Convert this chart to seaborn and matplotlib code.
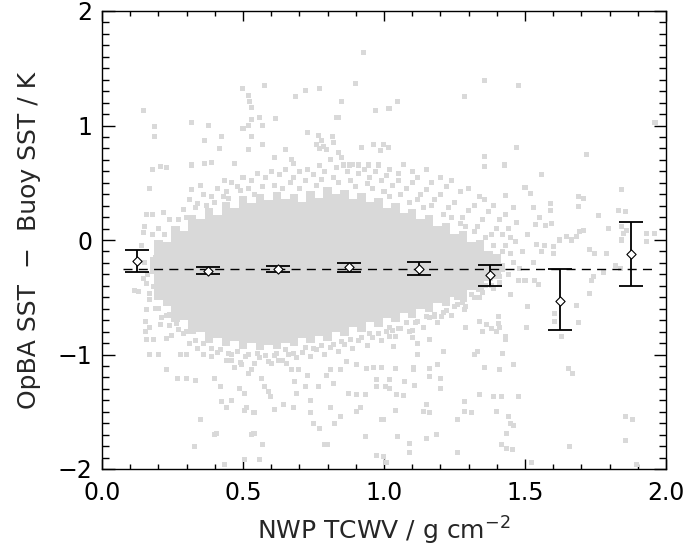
import matplotlib
matplotlib.use("Agg")
import matplotlib.pyplot as plt
from matplotlib.ticker import MultipleLocator, FixedLocator
import seaborn as sns
import pandas as pd

# ---- data ----
# dense core of the scatter cloud: envelope of the nearly solid region
core_tcwv = [0.17, 0.20, 0.23, 0.26, 0.29, 0.32, 0.35, 0.38, 0.41, 0.44, 0.47, 0.50, 0.53, 0.56,
             0.59, 0.62, 0.65, 0.68, 0.71, 0.74, 0.77, 0.80, 0.83, 0.86, 0.89, 0.92, 0.95, 0.98,
             1.01, 1.04, 1.07, 1.10, 1.13, 1.16, 1.19, 1.22, 1.25, 1.28, 1.31, 1.34, 1.37, 1.40, 1.43]
core_hi = [-0.15, 0.00, -0.02, 0.12, 0.08, 0.22, 0.18, 0.28, 0.22, 0.33, 0.28, 0.38, 0.32, 0.40,
           0.35, 0.42, 0.36, 0.40, 0.33, 0.43, 0.37, 0.46, 0.40, 0.44, 0.36, 0.41, 0.33, 0.37,
           0.28, 0.32, 0.24, 0.27, 0.18, 0.22, 0.12, 0.15, 0.05, 0.08, -0.02, 0.00, -0.10, -0.12, -0.20]
core_lo = [-0.30, -0.52, -0.58, -0.72, -0.70, -0.82, -0.80, -0.90, -0.86, -0.93, -0.88, -0.95, -0.90, -0.96,
           -0.92, -0.95, -0.90, -0.93, -0.86, -0.90, -0.84, -0.88, -0.80, -0.84, -0.76, -0.80, -0.72, -0.76,
           -0.68, -0.72, -0.64, -0.68, -0.60, -0.63, -0.55, -0.58, -0.50, -0.52, -0.44, -0.45, -0.36, -0.34, -0.28]

# individual matchups outside the dense core (TCWV, SST difference)
pts = [
    # upper scatter
    (0.146, 1.13), (0.186, 0.99), (0.186, 0.90), (0.316, 1.03), (0.377, 1.00), (0.497, 1.32),
    (0.519, 1.26), (0.524, 1.21), (0.531, 1.16), (0.578, 1.35), (0.72, 1.31), (0.77, 1.32),
    (0.687, 1.25), (0.90, 1.37), (0.85, 1.21), (0.97, 1.13), (1.015, 1.15), (0.50, 0.975),
    (0.52, 1.00), (0.53, 1.05), (0.557, 1.07), (0.568, 1.00), (0.616, 1.06), (0.83, 1.07),
    (0.84, 1.07), (0.365, 0.87), (0.424, 0.90), (0.418, 0.80), (0.531, 0.90), (0.519, 0.79),
    (0.568, 0.83), (0.649, 0.79), (0.73, 0.94), (0.766, 0.91), (0.78, 0.87), (0.76, 0.83),
    (0.77, 0.80), (0.787, 0.82), (0.797, 0.79), (0.817, 0.90), (0.82, 0.85), (0.838, 0.76),
    (0.92, 0.81), (0.962, 0.83), (0.997, 0.83), (0.986, 0.78), (1.015, 0.81), (0.178, 0.62),
    (0.208, 0.64), (0.229, 0.63), (0.316, 0.655), (0.365, 0.67), (0.387, 0.68), (0.469, 0.67),
    (0.61, 0.72), (0.673, 0.70), (0.678, 0.67), (0.856, 0.655), (0.879, 0.655), (0.909, 0.655),
    (0.944, 0.655), (0.98, 0.655), (0.17, 0.45), (0.158, 0.227), (0.18, 0.227), (0.146, 0.064),
    (0.217, 0.24), (0.318, 0.44), (0.348, 0.48), (0.436, 0.52), (0.926, 1.64),
    (1.047, 1.21), (1.019, 1.15), (1.287, 1.25), (1.358, 1.39), (1.476, 1.35), (1.961, 1.03),
    (1.47, 0.81), (1.358, 0.73), (1.358, 0.64), (1.429, 0.655), (1.719, 0.75), (1.559, 0.57),
    (1.50, 0.46), (1.52, 0.41), (1.43, 0.39), (1.358, 0.35), (1.843, 0.44), (1.689, 0.38),
    (1.709, 0.36), (1.83, 0.26), (1.858, 0.25), (1.53, 0.28), (1.59, 0.32), (1.59, 0.26),
    (1.76, 0.21), (1.689, 0.29), (1.571, 0.13), (1.595, 0.14), (1.538, 0.137), (1.624, 0.0),
    (1.648, 0.03), (1.695, 0.07), (1.709, 0.087), (1.795, 0.10), (1.843, 0.116), (1.86, 0.087),
    (1.93, 0.06), (1.93, -0.015), (1.96, 0.06), (1.60, -0.06), (1.60, -0.12), (1.73, -0.08),
    (1.748, -0.12), (1.79, -0.12), (1.54, -0.04), (1.56, -0.10), (1.465, -0.015), (1.85, 0.06),
    (1.843, 0.0), (1.666, 0.0), (1.683, 0.03),
    # lower right scatter
    (1.63, -0.845), (1.654, -1.12), (1.67, -1.17), (1.69, -0.72), (1.606, -0.71), (1.728, -0.47),
    (1.858, -1.54), (1.88, -1.57), (1.858, -1.75), (1.894, -1.96), (1.657, -1.80), (1.524, -1.94),
    (1.476, -1.37), (1.46, -1.09), (1.417, -1.37), (1.39, -1.37), (1.41, -1.135), (1.42, -0.99),
    (1.44, -1.54), (1.449, -1.60), (1.46, -1.62), (1.435, -1.69), (1.417, -1.79), (1.435, -1.82),
    (1.456, -1.83), (1.40, -1.50), (1.34, -1.35), (1.358, -1.11), (1.33, -0.975), (1.32, -1.00),
    (1.43, -0.845), (1.43, -0.87), (1.41, -0.76), (1.38, -0.77), (1.35, -0.80), (1.29, -0.76),
    (1.26, -1.57), (1.287, -1.41), (1.31, -1.51), (1.26, -1.86), (1.187, -1.70), (1.15, -1.73),
    (1.14, -1.50), (1.163, -1.51), (1.149, -1.44), (1.092, -1.78), (1.092, -1.86), (1.047, -1.72),
    (1.01, -1.94), (1.04, -1.485), (0.99, -1.57), (1.199, -1.30), (1.199, -1.21), (1.163, -1.19),
    (1.163, -1.12), (1.19, -1.09), (1.108, -1.27), (1.074, -1.24), (1.045, -1.35), (1.068, -1.36),
    (1.019, -1.30), (1.019, -1.22), (1.104, -1.11), (1.104, -1.135), (1.04, -1.12), (0.99, -1.11),
    (1.21, -0.97), (1.118, -1.00), (1.163, -0.865), (1.118, -0.90), (1.033, -0.93), (1.10, -0.85),
    (1.10, -0.79), (1.03, -0.79), (1.02, -0.845), (1.287, -1.50), (1.40, -0.80), (1.405, -0.73),
    (1.405, -0.67), (1.34, -0.71), (1.364, -0.74), (1.506, -0.76), (1.51, -0.58), (1.447, -0.48),
    (1.476, -0.35), (1.547, -0.39), (1.535, -0.35), (1.742, -0.32), (1.736, -0.35), (1.778, -0.28),
    (1.82, -0.22), (1.837, -0.25), (1.606, -0.64), (1.683, -0.57), (1.287, -0.61),
    (1.287, -0.52), (1.258, -0.50), (1.21, -0.45), (1.205, -0.67), (1.18, -0.67),
    # lower left scatter
    (0.117, -0.44), (0.17, -0.47), (0.17, -0.52), (0.158, -0.61), (0.156, -0.71), (0.17, -0.76),
    (0.156, -0.80), (0.182, -0.87), (0.158, -0.87), (0.17, -1.00), (0.20, -1.00), (0.229, -1.135),
    (0.267, -1.21), (0.30, -1.21), (0.33, -1.23), (0.277, -1.00), (0.30, -1.00), (0.348, -1.57),
    (0.40, -1.70), (0.407, -1.69), (0.327, -1.80), (0.436, -1.96), (0.504, -1.92), (0.557, -1.92),
    (0.539, -1.69), (0.53, -1.70), (0.568, -1.79), (0.539, -1.51), (0.504, -1.34), (0.513, -1.46),
    (0.504, -1.485), (0.46, -1.40), (0.424, -1.41), (0.44, -1.46), (0.489, -1.30), (0.40, -1.21),
    (0.421, -1.28), (0.53, -1.135), (0.566, -1.21), (0.578, -1.28), (0.59, -1.325), (0.596, -1.37),
    (0.613, -1.48), (0.643, -1.44), (0.678, -1.46), (0.69, -1.34), (0.738, -1.40), (0.738, -1.51),
    (0.773, -1.645), (0.79, -1.79), (0.80, -1.79), (0.75, -1.60), (0.826, -1.60), (0.81, -1.46),
    (0.844, -1.54), (0.873, -1.34), (0.903, -1.35), (0.933, -1.35), (0.915, -1.46), (0.903, -1.50),
    (0.933, -1.72), (0.998, -1.57), (0.974, -1.88), (0.998, -1.89), (0.696, -1.135), (0.73, -1.18),
    (0.684, -1.24), (0.72, -1.28), (0.767, -1.28), (0.82, -1.25), (0.797, -1.18), (0.81, -1.135),
    (0.844, -1.135), (0.868, -1.06), (0.903, -1.09), (0.939, -1.12), (0.962, -1.11), (0.974, -1.22),
    (1.004, -1.28), (0.974, -1.28), (0.60, -1.08), (0.625, -1.05), (0.655, -1.08), (0.673, -1.135),
    (0.46, -1.05), (0.47, -1.11), (0.495, -1.09), (0.519, -1.165), (0.229, -0.86), (0.247, -0.83),
    (0.265, -0.73), (0.277, -0.68), (0.24, -0.655), (0.206, -0.74), (0.206, -0.45), (0.235, -0.41),
    (0.247, -0.50), (0.283, -0.57), (0.265, -0.58), (0.24, -0.55), (0.146, -0.335), (0.158, -0.38),
    (0.182, -0.41), (0.206, -0.35), (0.229, -0.31),
    # fringe above the dense core
    (0.20, 0.10), (0.24, 0.18), (0.26, 0.10), (0.29, 0.27), (0.31, 0.35), (0.34, 0.32), (0.36, 0.40),
    (0.39, 0.38), (0.41, 0.45), (0.44, 0.42), (0.46, 0.50), (0.48, 0.47), (0.50, 0.55), (0.53, 0.52),
    (0.55, 0.58), (0.58, 0.55), (0.60, 0.60), (0.63, 0.57), (0.65, 0.62), (0.68, 0.55), (0.70, 0.60),
    (0.73, 0.62), (0.75, 0.57), (0.77, 0.65), (0.79, 0.60), (0.81, 0.70), (0.83, 0.63), (0.85, 0.72),
    (0.87, 0.60), (0.89, 0.66), (0.91, 0.58), (0.93, 0.62), (0.95, 0.55), (0.97, 0.60), (0.99, 0.52),
    (1.01, 0.56), (1.03, 0.48), (1.05, 0.52), (1.08, 0.45), (1.10, 0.50), (1.13, 0.40), (1.15, 0.44),
    (1.18, 0.35), (1.20, 0.40), (1.23, 0.28), (1.25, 0.33), (1.28, 0.20), (1.30, 0.26), (1.33, 0.12),
    (1.35, 0.18), (1.38, 0.05), (1.40, 0.10), (1.43, -0.05), (1.45, 0.02),
    (1.02, 0.62), (1.05, 0.58), (1.07, 0.66), (1.10, 0.60), (1.12, 0.55), (1.15, 0.62), (1.17, 0.50),
    (1.20, 0.55), (1.22, 0.47), (1.24, 0.52), (1.27, 0.42), (1.30, 0.45), (1.32, 0.30), (1.34, 0.38),
    (1.37, 0.25), (1.39, 0.30), (1.41, 0.18), (1.43, 0.22), (1.44, 0.10), (1.42, 0.05), (1.45, -0.12),
    (1.46, -0.20), (1.47, 0.15), (1.49, -0.10), (1.51, 0.05), (1.53, -0.20), (1.48, -0.25),
    (1.55, 0.20), (1.46, 0.28), (1.57, -0.05), (1.50, -0.35),
    (0.22, 0.05), (0.27, 0.18), (0.30, 0.20), (0.33, 0.28), (0.37, 0.30), (0.40, 0.33), (0.43, 0.38),
    (0.45, 0.36), (0.49, 0.43), (0.52, 0.45), (0.54, 0.40), (0.57, 0.47), (0.61, 0.48), (0.64, 0.45),
    (0.67, 0.50), (0.70, 0.45), (0.72, 0.52), (0.76, 0.48), (0.78, 0.53), (0.82, 0.55), (0.84, 0.50),
    (0.88, 0.52), (0.90, 0.47), (0.94, 0.49), (0.96, 0.45), (1.00, 0.42), (1.02, 0.38), (1.06, 0.40),
    (1.09, 0.33), (1.12, 0.35), (1.14, 0.28), (1.17, 0.30), (1.21, 0.22), (1.24, 0.20), (1.27, 0.14),
    (1.29, 0.12), (1.32, 0.07), (1.36, 0.02), (1.39, -0.05), (1.42, -0.10),
    # fringe below the dense core
    (0.19, -0.60), (0.21, -0.68), (0.24, -0.75), (0.26, -0.65), (0.29, -0.82), (0.31, -0.90),
    (0.34, -0.95), (0.36, -1.00), (0.39, -1.02), (0.41, -0.98), (0.44, -1.05), (0.46, -1.00),
    (0.49, -1.07), (0.51, -1.02), (0.54, -1.08), (0.56, -1.03), (0.59, -1.06), (0.61, -1.01),
    (0.64, -1.05), (0.66, -1.00), (0.69, -1.03), (0.71, -0.98), (0.74, -1.02), (0.76, -0.96),
    (0.79, -1.00), (0.81, -0.94), (0.84, -0.97), (0.86, -0.91), (0.89, -0.95), (0.91, -0.88),
    (0.94, -0.92), (0.96, -0.85), (0.99, -0.88), (1.01, -0.80), (1.04, -0.84), (1.06, -0.77),
    (1.09, -0.80), (1.11, -0.72), (1.14, -0.76), (1.16, -0.68), (1.19, -0.72), (1.21, -0.63),
    (1.24, -0.66), (1.26, -0.56), (1.29, -0.58), (1.31, -0.48), (1.34, -0.50), (1.36, -0.40),
    (1.39, -0.42), (1.41, -0.32), (1.44, -0.30),
    (0.20, -0.60), (0.23, -0.66), (0.27, -0.78), (0.30, -0.80), (0.33, -0.88), (0.36, -0.90),
    (0.39, -0.95), (0.42, -0.96), (0.45, -0.99), (0.48, -0.97), (0.52, -1.00), (0.55, -0.99),
    (0.58, -1.01), (0.62, -0.99), (0.65, -0.96), (0.68, -0.99), (0.72, -0.94), (0.75, -0.95),
    (0.78, -0.92), (0.82, -0.91), (0.85, -0.89), (0.88, -0.87), (0.92, -0.85), (0.95, -0.82),
    (0.98, -0.82), (1.02, -0.76), (1.05, -0.77), (1.08, -0.72), (1.12, -0.71), (1.15, -0.67),
    (1.18, -0.65), (1.22, -0.62), (1.25, -0.58), (1.28, -0.55), (1.32, -0.50), (1.35, -0.46),
    (1.38, -0.40), (1.41, -0.37),
    # fringe on the left
    (0.14, -0.05), (0.15, -0.20), (0.16, -0.30), (0.13, -0.45), (0.18, 0.05), (0.15, 0.12),
    (0.19, -0.15),
]
pt_tcwv = [p[0] for p in pts]
pt_bias = [p[1] for p in pts]

# binned statistics
bin_tcwv = [0.125, 0.375, 0.625, 0.875, 1.125, 1.375, 1.625, 1.875]
bin_mean = [-0.18, -0.27, -0.25, -0.235, -0.255, -0.31, -0.53, -0.12]
bin_upper = [-0.09, -0.24, -0.225, -0.20, -0.19, -0.22, -0.25, 0.16]
bin_lower = [-0.28, -0.30, -0.28, -0.28, -0.31, -0.40, -0.79, -0.40]

overall_bias = -0.255
bias_line_tcwv = [0.075, 1.95]

# ---- plotting ----
sns.set_style("ticks")
plt.rcParams["font.family"] = ["DejaVu Sans"]

fig = plt.figure(figsize=(6.9, 5.53), dpi=100)
ax = fig.add_axes([102 / 690, 1 - 469 / 553, 564 / 690, 458 / 553])

grey = "#d9d9d9"
ax.fill_between(core_tcwv, core_lo, core_hi, step="mid", color=grey, linewidth=0, zorder=1)
sns.scatterplot(x=pt_tcwv, y=pt_bias, ax=ax, marker="s", s=13, color=grey,
                linewidth=0, edgecolor="none", zorder=2)

df = pd.DataFrame({"tcwv": bias_line_tcwv, "bias": [overall_bias] * len(bias_line_tcwv)})
sns.lineplot(data=df, x="tcwv", y="bias", ax=ax, color="black", linewidth=1.0,
             dashes=False, zorder=3).lines[-1].set_dashes((6.5, 4.5))

err = [[m - lo for m, lo in zip(bin_mean, bin_lower)],
       [hi - m for m, hi in zip(bin_mean, bin_upper)]]
ax.errorbar(bin_tcwv, bin_mean, yerr=err, fmt="none", ecolor="black",
            elinewidth=1.3, capsize=8.5, capthick=1.3, zorder=4)
sns.scatterplot(x=bin_tcwv, y=bin_mean, ax=ax, marker="D", s=22,
                facecolor="white", edgecolor="black", linewidth=0.8, zorder=5)

ax.set_xlim(0, 2)
ax.set_ylim(-2, 2)
ax.xaxis.set_major_locator(FixedLocator([0, 0.5, 1.0, 1.5, 2.0]))
ax.xaxis.set_minor_locator(MultipleLocator(0.1))
ax.yaxis.set_major_locator(FixedLocator([-2, -1, 0, 1, 2]))
ax.yaxis.set_minor_locator(MultipleLocator(0.1))
ax.set_xticklabels(["0.0", "0.5", "1.0", "1.5", "2.0"])
ax.set_yticklabels(["\u22122", "\u22121", "0", "1", "2"])

ax.tick_params(axis="both", which="both", direction="in", top=True, right=True,
               colors="black", width=1.0, labelsize=17)
ax.tick_params(axis="x", which="major", length=7.5, pad=9)
ax.tick_params(axis="x", which="minor", length=3.5)
ax.tick_params(axis="y", which="major", length=9, pad=7)
ax.tick_params(axis="y", which="minor", length=5)
for sp in ax.spines.values():
    sp.set_color("black")
    sp.set_linewidth(1.0)

ax.set_xlabel("NWP TCWV / g cm$^{-2}$", fontsize=18, labelpad=7)
ax.set_ylabel("OpBA SST  \u2212  Buoy SST / K", fontsize=18, labelpad=12)

fig.savefig("out.png", dpi=100)
